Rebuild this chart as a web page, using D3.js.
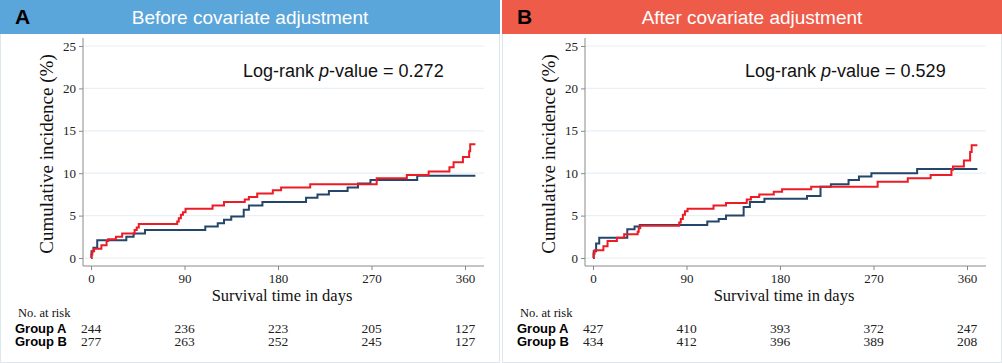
<!DOCTYPE html>
<html>
<head>
<meta charset="utf-8">
<script src="https://cdn.jsdelivr.net/npm/d3@7"></script>
<style>
  body { margin: 0; background: #fff; }
  svg { display: block; }
</style>
</head>
<body>
<svg id="chart" width="1002" height="363"></svg>
<script>
// tick labels
let xTicks = [0, 90, 180, 270, 360];
let yTicks = [0, 5, 10, 15, 20, 25];
let groups = ['Group A', 'Group B'];

// panel A - before adjustment (blue / red step curves)
let beforeBlueDays = [0, 0.5, 2.3, 6, 34, 41, 52, 110, 122, 128, 135, 147, 152, 165, 207, 218, 229, 247, 257, 269, 314, 370];
let beforeBlueInc = [0, 0.8, 1.2, 2.1, 2.5, 2.9, 3.3, 3.7, 4.1, 4.5, 4.9, 5.7, 6.2, 6.6, 7.1, 7.5, 7.9, 8.3, 8.8, 9.2, 9.7, 9.7];
let beforeRedDays = [0, 0.4, 1.3, 3, 10, 15, 16.5, 24, 30, 42, 44, 46, 83, 84.5, 86.5, 88.5, 91, 117, 128, 148, 152, 160, 175, 183, 211, 275, 304, 325, 345, 349, 358, 364, 365, 370];
let beforeRedInc = [0, 0.4, 0.8, 1.1, 1.5, 2.0, 2.2, 2.5, 2.9, 3.3, 3.6, 4.0, 4.3, 4.7, 5.1, 5.4, 5.8, 6.2, 6.6, 6.9, 7.2, 7.6, 8.0, 8.3, 8.7, 9.4, 9.8, 10.2, 10.7, 11.3, 11.9, 12.6, 13.4, 13.4];
let beforeRiskA = [244, 236, 223, 205, 127];
let beforeRiskB = [277, 263, 252, 245, 127];

// panel B - after adjustment
let afterBlueDays = [0, 0.7, 3, 6, 33, 40, 45, 110, 121, 128, 145, 151, 165, 206, 219, 229, 246, 256, 268, 312, 370];
let afterBlueInc = [0, 0.8, 1.7, 2.4, 3.4, 3.7, 3.9, 4.3, 4.6, 5.0, 6.0, 6.6, 7.0, 7.3, 8.4, 8.7, 9.2, 9.6, 10.0, 10.5, 10.5];
let afterRedDays = [0, 0.5, 1.5, 10, 14, 23, 30, 43, 44, 45.5, 83, 84.5, 86.5, 88.5, 91, 116, 128, 148, 152, 160, 174, 182, 210, 274, 303, 325, 345, 346.5, 357, 363, 364.5, 370];
let afterRedInc = [0, 0.5, 0.9, 1.4, 2.0, 2.4, 2.8, 3.1, 3.5, 3.8, 4.2, 4.6, 5.1, 5.5, 5.8, 6.2, 6.5, 6.9, 7.2, 7.5, 7.8, 8.1, 8.4, 9.0, 9.4, 9.8, 10.4, 10.8, 11.5, 12.5, 13.3, 13.3];
let afterRiskA = [427, 410, 393, 372, 247];
let afterRiskB = [434, 412, 396, 389, 208];

let svg = d3.select('#chart');
svg.append('rect').attr('width', 1002).attr('height', 363).attr('fill', '#fff');

let serif = '"Liberation Serif", "Times New Roman", serif';
let sans = '"Liberation Sans", Arial, sans-serif';

let drawPanel = (offset, letter, title, headColor, pText, blue, red, riskA, riskB) => {
	let g = svg.append('g').attr('transform', 'translate(' + offset + ',0)');

	// frame + header band
	g.append('rect').attr('x', 0.5).attr('y', 0.5).attr('width', 499).attr('height', 362)
		.attr('fill', 'none').attr('stroke', '#dde7ee');
	g.append('rect').attr('x', 0).attr('y', 0).attr('width', 500).attr('height', 34).attr('fill', headColor);
	g.append('text').attr('x', 15).attr('y', 24).text(letter)
		.attr('font-family', sans).attr('font-weight', 'bold').attr('font-size', 21).attr('fill', '#000');
	g.append('text').attr('x', 250).attr('y', 24).attr('text-anchor', 'middle').text(title)
		.attr('font-family', sans).attr('font-size', 19).attr('fill', '#fff');

	let x = d3.scaleLinear().domain([0, 360]).range([91, 465]);
	let y = d3.scaleLinear().domain([0, 25]).range([258, 46]);

	// grid
	g.selectAll('.grid').data(yTicks).enter().append('line')
		.attr('x1', 83).attr('x2', 484)
		.attr('y1', d => y(d)).attr('y2', d => y(d))
		.attr('stroke', '#e9f0f4').attr('stroke-width', 1.2);

	// axes (Stata style: lines extend past data range)
	let yAxis = g.append('g').attr('transform', 'translate(83,0)')
		.call(d3.axisLeft(y).tickValues(yTicks).tickSize(4).tickPadding(3));
	yAxis.select('.domain').remove();
	g.append('line').attr('x1', 83).attr('x2', 83).attr('y1', 38).attr('y2', 266).attr('stroke', '#8a8a8a');

	let xAxis = g.append('g').attr('transform', 'translate(0,266)')
		.call(d3.axisBottom(x).tickValues(xTicks).tickSize(4).tickPadding(4));
	xAxis.select('.domain').remove();
	g.append('line').attr('x1', 83).attr('x2', 484).attr('y1', 266).attr('y2', 266).attr('stroke', '#8a8a8a');

	g.selectAll('.tick line').attr('stroke', '#8a8a8a');
	g.selectAll('.tick text').attr('font-family', serif).attr('font-size', 13).attr('fill', '#222');

	// axis titles
	g.append('text').attr('transform', 'translate(53,154) rotate(-90)').attr('text-anchor', 'middle')
		.text('Cumulative incidence (%)').attr('font-family', serif).attr('font-size', 19).attr('fill', '#111');
	g.append('text').attr('x', 282).attr('y', 301).attr('text-anchor', 'middle')
		.text('Survival time in days').attr('font-family', serif).attr('font-size', 16.5).attr('fill', '#111');

	// log-rank annotation
	let t = g.append('text').attr('x', 243).attr('y', 77)
		.attr('font-family', sans).attr('font-size', 18).attr('fill', '#111');
	t.append('tspan').text('Log-rank ');
	t.append('tspan').attr('font-style', 'italic').text('p');
	t.append('tspan').text('-value = ' + pText);

	// step curves
	let line = d3.line().curve(d3.curveStepAfter).x(d => x(d[0])).y(d => y(d[1]));
	g.append('path').datum(d3.zip(blue[0], blue[1]))
		.attr('d', line).attr('fill', 'none').attr('stroke', '#24466b').attr('stroke-width', 2);
	g.append('path').datum(d3.zip(red[0], red[1]))
		.attr('d', line).attr('fill', 'none').attr('stroke', '#ec1c24').attr('stroke-width', 2);

	// number at risk table
	g.append('text').attr('x', 18).attr('y', 317).text('No. at risk')
		.attr('font-family', serif).attr('font-size', 12.5).attr('fill', '#111');
	[riskA, riskB].forEach((row, i) => {
		let ry = 333 + i * 13;
		g.append('text').attr('x', 15).attr('y', ry).text(groups[i])
			.attr('font-family', sans).attr('font-weight', 'bold').attr('font-size', 13).attr('fill', '#000');
		g.selectAll('.risk' + i).data(row).enter().append('text')
			.attr('x', (d, j) => x(xTicks[j])).attr('y', ry).attr('text-anchor', 'middle')
			.text(d => d).attr('font-family', serif).attr('font-size', 13.5).attr('fill', '#222');
	});
};

drawPanel(0, 'A', 'Before covariate adjustment', '#5aa5da', '0.272',
	[beforeBlueDays, beforeBlueInc], [beforeRedDays, beforeRedInc], beforeRiskA, beforeRiskB);
drawPanel(502, 'B', 'After covariate adjustment', '#ef5b49', '0.529',
	[afterBlueDays, afterBlueInc], [afterRedDays, afterRedInc], afterRiskA, afterRiskB);
</script>
</body>
</html>
